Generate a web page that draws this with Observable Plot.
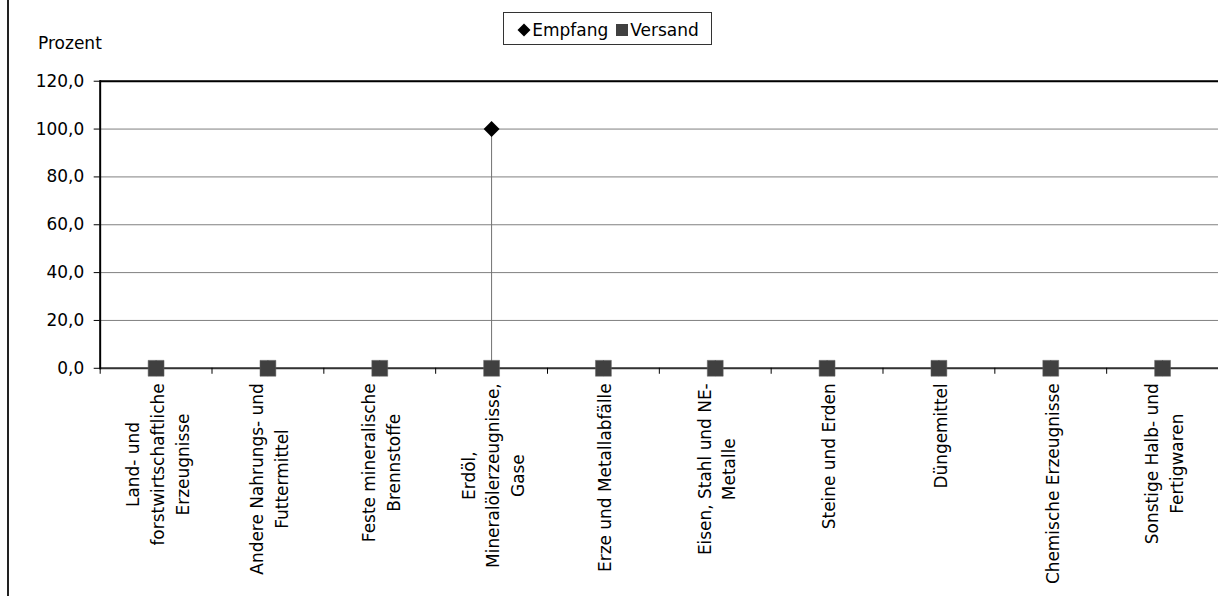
<!DOCTYPE html>
<html>
<head>
<meta charset="utf-8">
<script src="https://cdn.jsdelivr.net/npm/d3@7"></script>
<script src="https://cdn.jsdelivr.net/npm/@observablehq/plot@0.6"></script>
<style>
  html, body { margin: 0; padding: 0; background: #fff; overflow: hidden; }
  #wrap { position: relative; width: 1218px; height: 596px; overflow: hidden; font-family: "DejaVu Sans", sans-serif; font-size: 17px; color: #000; }
  #wrap > svg { position: absolute; left: 0; top: 0; }
  #border { position: absolute; left: 7px; top: 0; width: 2px; height: 596px; background: #222; }
  #ylabel { position: absolute; left: 38px; top: 33px; line-height: 20px; }
  #legend { position: absolute; left: 503px; top: 12px; width: 207px; height: 29px; border: 1px solid #333;
            display: flex; align-items: center; justify-content: center; line-height: 20px; padding-top: 2px; box-sizing: content-box; }
  #legend span { display: inline-flex; align-items: center; }
  #legend svg { position: static; }
</style>
</head>
<body>
<div id="wrap">
  <div id="border"></div>
  <div id="ylabel">Prozent</div>
  <div id="legend">
    <span><svg width="16" height="14"><path d="M8,0.5 L14.5,7 L8,13.5 L1.5,7 Z" fill="#000"/></svg>Empfang</span>
    <span style="margin-left:7px"><svg width="15" height="14"><rect x="1" y="1" width="12" height="12" fill="#404040"/></svg>Versand</span>
  </div>
</div>
<script>
const categories = [
  "Land- und\nforstwirtschaftliche\nErzeugnisse",
  "Andere Nahrungs- und\nFuttermittel",
  "Feste mineralische\nBrennstoffe",
  "Erdöl,\nMineralölerzeugnisse,\nGase",
  "Erze und Metallabfälle",
  "Eisen, Stahl und NE-\nMetalle",
  "Steine und Erden",
  "Düngemittel",
  "Chemische Erzeugnisse",
  "Sonstige Halb- und\nFertigwaren"
];
const empfang = [0, 0, 0, 100, 0, 0, 0, 0, 0, 0];
const versand = [0, 0, 0, 0, 0, 0, 0, 0, 0, 0];
const yTicks = [0, 20, 40, 60, 80, 100, 120];

const data = categories.map((c, i) => ({cat: c, empfang: empfang[i], versand: versand[i]}));

const W = 1222, H = 596, mL = 100, mR = 0, mT = 81, mB = 227;
const bw = (W - mL - mR) / categories.length;

const ctx = document.createElement("canvas").getContext("2d");
ctx.font = "17px 'DejaVu Sans'";
const maxWidth = c => d3.max(c.split("\n"), l => ctx.measureText(l).width);

const fmt = d3.formatLocale({decimal: ",", thousands: ".", grouping: [3], currency: ["", "€"]}).format(".1f");

const labelMarks = categories.map(c => Plot.text([c], {
  x: d => d, y: () => 0, text: d => d,
  rotate: -90, textAnchor: "middle", lineAnchor: "middle", lineHeight: 1.45,
  dy: 15 + maxWidth(c) / 2, fontSize: 17, fill: "#000"
}));

const chart = Plot.plot({
  width: W, height: H,
  marginLeft: mL, marginRight: mR, marginTop: mT, marginBottom: mB,
  style: {fontFamily: "'DejaVu Sans', sans-serif", fontSize: "17px", background: "transparent", color: "#000"},
  x: {type: "band", domain: categories, padding: 0, round: false, axis: null},
  y: {domain: [0, 120], axis: null},
  marks: [
    Plot.gridY(yTicks, {stroke: "#808080", strokeOpacity: 1, strokeWidth: 1}),
    Plot.ruleY([120], {stroke: "#000", strokeWidth: 2}),
    Plot.ruleY([0], {stroke: "#333", strokeWidth: 2}),
    Plot.ruleX(categories, {x: d => d, y1: 0, y2: 0, dx: -bw / 2, insetBottom: -6, stroke: "#000", strokeWidth: 1}),
    Plot.axisY(yTicks, {tickFormat: fmt, tickSize: 6, tickPadding: 10, fontSize: 17, stroke: "#000", label: null}),
    Plot.frame({anchor: "left", stroke: "#000", strokeWidth: 2}),
    Plot.ruleX(data.filter(d => d.empfang !== d.versand), {x: "cat", y1: "versand", y2: "empfang", stroke: "#707070", strokeWidth: 1}),
    Plot.dot(data, {x: "cat", y: "empfang", symbol: "diamond2", r: 7.2, fill: "#000", stroke: "none"}),
    Plot.dot(data, {x: "cat", y: "versand", symbol: "square", r: 9, fill: "#404040", stroke: "#666", strokeWidth: 0.5}),
    ...labelMarks
  ]
});
document.getElementById("wrap").insertBefore(chart, document.getElementById("wrap").firstChild);
</script>
</body>
</html>
